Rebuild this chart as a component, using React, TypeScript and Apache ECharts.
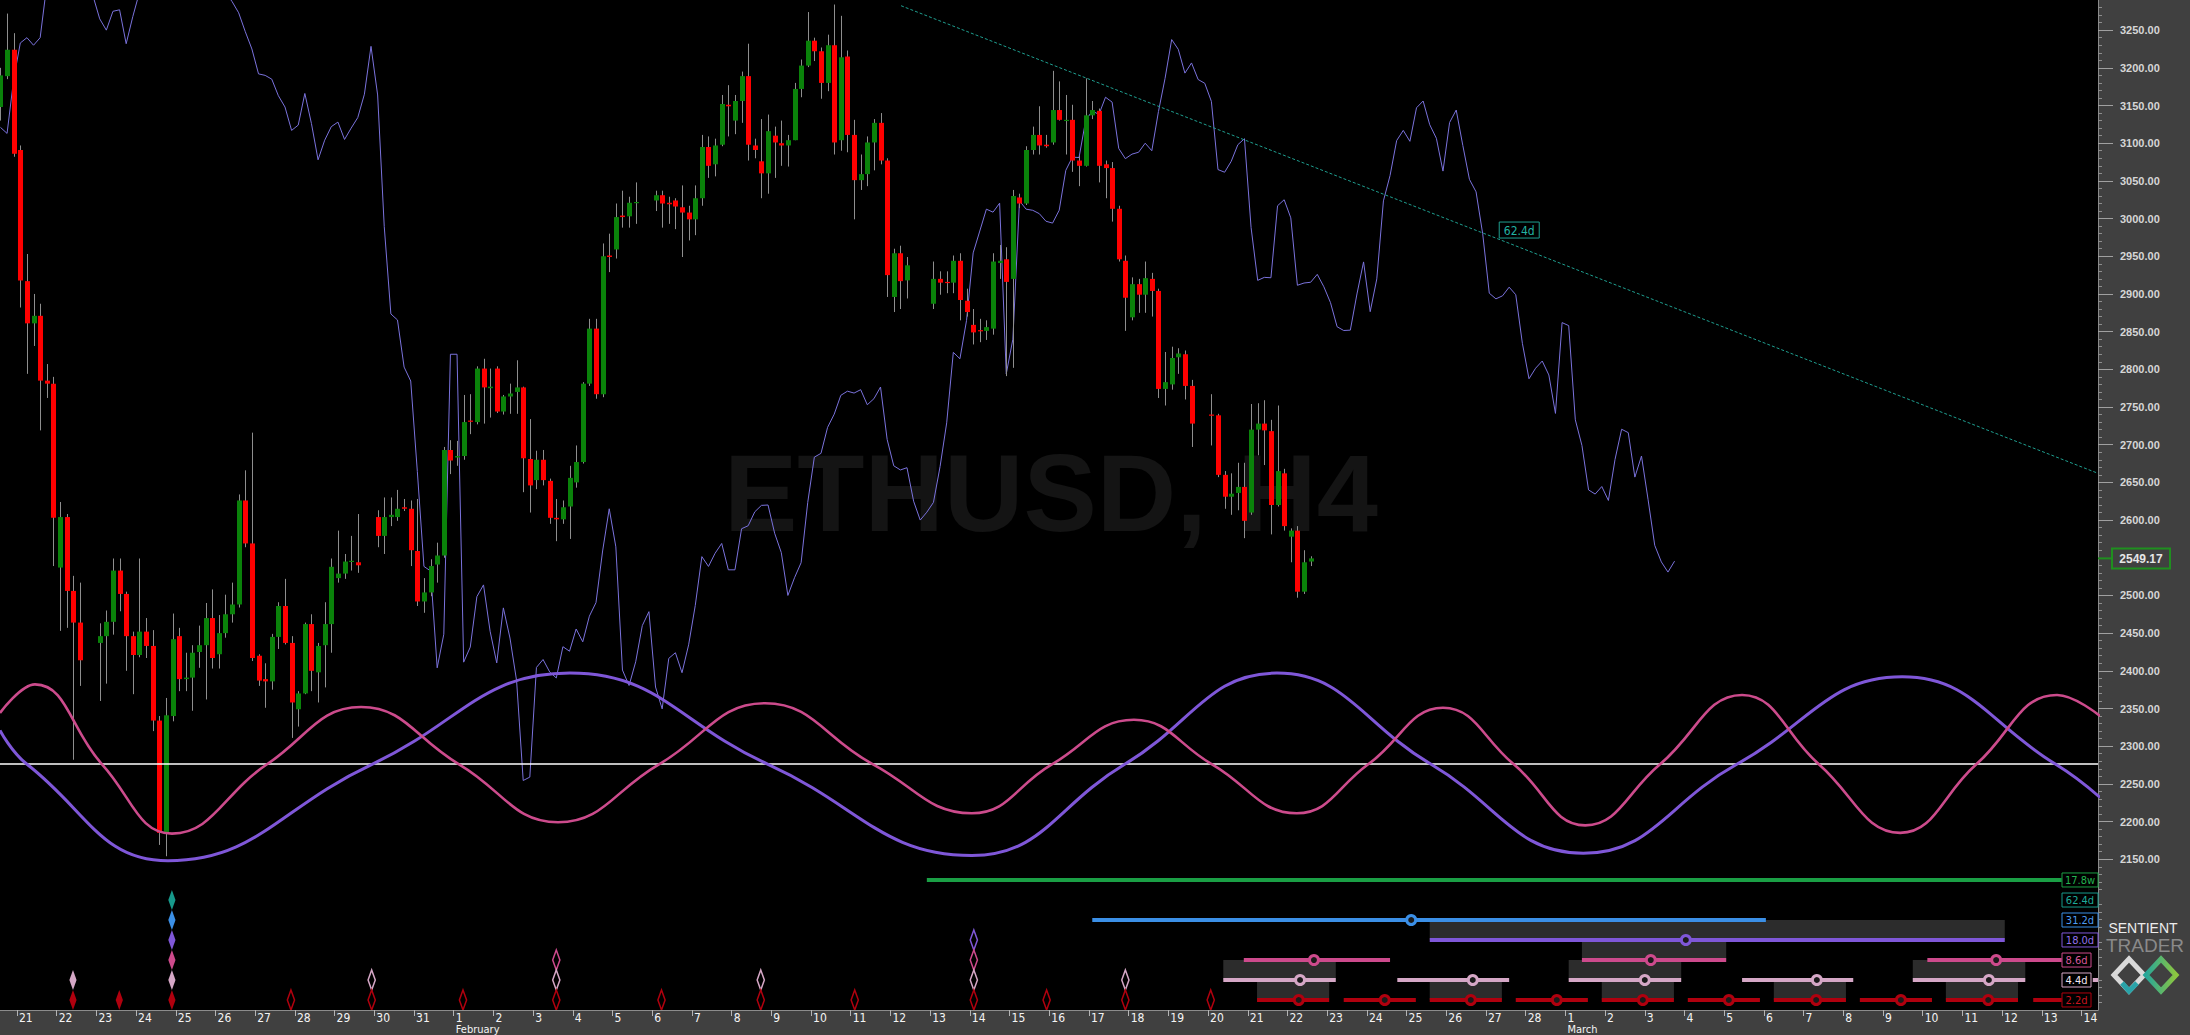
import React, { useEffect, useRef } from "react";
import * as echarts from "echarts";

// ---------- axes ----------
const X_MIN = -2.569; // candle slots, 0 = 21 Jan 00:00, 6 slots per day (H4)
const X_MAX = 314.49;
const Y_MIN = 1950;
const Y_MAX = 3290;
const FIRST_INDEX = -3;

const dayLabels = [
  "21", "22", "23", "24", "25", "26", "27", "28", "29", "30", "31",
  "1", "2", "3", "4", "5", "6", "7", "8", "9", "10", "11", "12", "13", "14", "15", "16", "17", "18", "19", "20", "21", "22", "23", "24", "25", "26", "27", "28",
  "1", "2", "3", "4", "5", "6", "7", "8", "9", "10", "11", "12", "13", "14",
];
const monthLabelDay = [11, 39];
const monthLabelText = ["February", "March"];
const priceTicks = [2150, 2200, 2250, 2300, 2350, 2400, 2450, 2500, 2550, 2600, 2650, 2700, 2750, 2800, 2850, 2900, 2950, 3000, 3050, 3100, 3150, 3200, 3250];

// ---------- ETHUSD H4 candles (index -3 .. 195) ----------
const openP = [
  3148, 3189, 3224, 3091, 2917, 2861, 2871, 2785, 2781, 2537,
  2604, 2506, 2464, null, null, 2437, 2446, 2465, 2533, 2502,
  2446, 2421, 2452, 2433, 2334, 2185, 2340, 2446, 2389, 2391,
  2425, 2434, 2470, 2422, 2450, 2475, 2488, 2626, 2569, 2420,
  2389, 2386, 2445, 2486, 2437, 2349, 2370, 2462, 2398, 2434,
  2462, 2523, 2529, 2545, 2544, null, null, 2604, 2579, 2604,
  2604, 2617, 2615, 2559, 2492, 2504, 2541, 2553, 2693, 2683,
  2685, 2732, 2730, 2801, 2775, 2801, 2744, 2764, 2770, 2776,
  2681, 2653, 2680, 2652, 2603, 2601, 2618, 2650, 2677, 2781,
  2854, 2767, 2951, 2959, 3004, 3003, 3021, null, null, 3024,
  3031, 3021, 3024, 3015, 3008, 2999, 3027, 3095, 3072, 3098,
  3151, 3130, 3156, 3189, 3097, 3076, 3060, 3110, 3100, 3097,
  3104, 3172, 3203, 3236, 3222, 3180, 3230, 3104, 3215, 3111,
  3051, 3059, 3101, 3127, 3077, 2896, 2954, 2918, null, null,
  null, 2887, 2920, 2916, 2915, 2944, 2891, 2859, 2852, 2851,
  2854, 2941, 2946, 2920, 3028, 3020, 3091, 3111, 3098, 3101,
  3144, 3130, 3131, 3077, 3070, 3137, 3143, 3072, 3067, 3013,
  2944, 2869, 2913, 2899, 2920, 2904, 2774, 2780, 2816, 2820,
  2778, null, null, 2740, 2739, 2660, 2631, 2636, 2644, 2610,
  2720, 2728, 2718, 2620, 2662, 2578, 2586, 2505, 2545,
];
const highP = [
  3200, 3272, 3246, 3097, 2953, 2900, 2887, 2807, 2790, 2624,
  2608, 2526, 2517, null, null, 2463, 2480, 2549, 2549, 2505,
  2452, 2549, 2470, 2454, 2340, 2364, 2476, 2457, 2424, 2434,
  2460, 2490, 2508, 2474, 2501, 2517, 2634, 2666, 2716, 2422,
  2410, 2449, 2491, 2522, 2446, 2373, 2464, 2475, 2437, 2491,
  2549, 2586, 2555, 2579, 2608, null, null, 2613, 2630, 2630,
  2640, 2628, 2626, 2628, 2523, 2548, 2570, 2697, 2706, 2705,
  2766, 2767, 2804, 2814, 2801, 2804, 2766, 2781, 2812, 2777,
  2734, 2692, 2693, 2655, 2628, 2626, 2672, 2699, 2783, 2867,
  2867, 2967, 2980, 3020, 3037, 3029, 3048, null, null, 3037,
  3037, 3029, 3027, 3044, 3017, 3044, 3111, 3109, 3106, 3164,
  3177, 3164, 3195, 3232, 3106, 3132, 3138, 3122, 3130, 3111,
  3180, 3211, 3274, 3240, 3227, 3244, 3284, 3269, 3223, 3131,
  3085, 3109, 3132, 3140, 3080, 2960, 2964, 2949, null, null,
  null, 2943, 2930, 2930, 2951, 2954, 2907, 2880, 2867, 2865,
  2954, 2965, 2962, 3038, 3033, 3096, 3122, 3149, 3111, 3196,
  3182, 3164, 3151, 3083, 3186, 3156, 3146, 3077, 3075, 3017,
  2951, 2922, 2920, 2943, 2928, 2907, 2823, 2830, 2828, 2825,
  2786, null, null, 2767, 2741, 2665, 2662, 2676, 2676, 2754,
  2755, 2759, 2733, 2752, 2668, 2589, 2592, 2560, 2552,
];
const lowP = [
  3130, 3185, 3082, 2882, 2794, 2831, 2719, 2762, 2539, 2453,
  2457, 2282, 2380, null, null, 2360, 2383, 2448, 2479, 2400,
  2369, 2418, 2417, 2320, 2169, 2154, 2333, 2373, 2373, 2347,
  2404, 2362, 2403, 2403, 2444, 2464, 2484, 2564, 2413, 2380,
  2351, 2375, 2429, 2435, 2311, 2326, 2369, 2373, 2358, 2378,
  2424, 2517, 2522, 2533, 2530, null, null, 2564, 2555, 2592,
  2599, 2612, 2539, 2486, 2477, 2499, 2517, 2550, 2661, 2672,
  2680, 2714, 2727, 2728, 2736, 2742, 2740, 2741, 2741, 2637,
  2610, 2641, 2646, 2595, 2572, 2595, 2575, 2643, 2675, 2778,
  2761, 2763, 2929, 2947, 2988, 2988, 2993, null, null, 3010,
  2988, 2993, 2986, 2949, 2971, 2978, 3017, 3054, 3056, 3096,
  3109, 3112, 3127, 3077, 3080, 3027, 3033, 3054, 3070, 3069,
  3104, 3161, 3201, 3209, 3159, 3169, 3085, 3090, 3088, 2999,
  3038, 3043, 3064, 3072, 2896, 2876, 2880, 2894, null, null,
  null, 2880, 2899, 2901, 2901, 2865, 2870, 2833, 2836, 2839,
  2846, 2920, 2791, 2802, 3014, 3018, 3085, 3085, 3094, 3098,
  3130, 3085, 3062, 3043, 3069, 3132, 3048, 3027, 2996, 2943,
  2851, 2865, 2875, 2875, 2870, 2762, 2752, 2773, 2794, 2760,
  2697, null, null, 2699, 2657, 2615, 2607, 2613, 2576, 2607,
  2686, 2673, 2581, 2618, 2586, 2544, 2497, 2502, 2539,
];
const closeP = [
  3190, 3224, 3086, 2918, 2861, 2871, 2785, 2781, 2603, 2604,
  2506, 2464, 2414, null, null, 2446, 2465, 2533, 2502, 2446,
  2421, 2452, 2433, 2334, 2185, 2341, 2442, 2389, 2391, 2424,
  2434, 2470, 2417, 2450, 2475, 2488, 2626, 2569, 2417, 2387,
  2386, 2445, 2486, 2437, 2358, 2370, 2462, 2400, 2433, 2462,
  2538, 2529, 2545, 2546, 2540, null, null, 2579, 2604, 2607,
  2615, 2615, 2560, 2492, 2504, 2539, 2553, 2693, 2679, 2685,
  2730, 2731, 2801, 2776, 2777, 2744, 2764, 2768, 2776, 2682,
  2646, 2680, 2653, 2603, 2601, 2617, 2656, 2677, 2781, 2854,
  2767, 2950, 2949, 3002, 3002, 3021, 3022, null, null, 3031,
  3020, 3019, 3016, 3008, 2999, 3027, 3095, 3070, 3097, 3152,
  3149, 3156, 3189, 3098, 3091, 3060, 3116, 3101, 3097, 3104,
  3172, 3203, 3236, 3222, 3180, 3230, 3101, 3214, 3111, 3051,
  3059, 3101, 3127, 3077, 2925, 2954, 2917, 2938, null, null,
  null, 2920, 2915, 2915, 2944, 2892, 2876, 2849, 2851, 2856,
  2943, 2944, 2916, 3030, 3020, 3091, 3111, 3097, 3096, 3144,
  3131, 3131, 3077, 3070, 3137, 3144, 3070, 3067, 3013, 2946,
  2895, 2913, 2899, 2921, 2904, 2774, 2783, 2815, 2821, 2778,
  2728, null, null, 2739, 2660, 2631, 2635, 2644, 2599, 2720,
  2728, 2719, 2620, 2665, 2592, 2586, 2505, 2544, 2549.17,
];
const lastPriceLabel = "2549.17";

// ---------- FLD (median price displaced forward) ----------
const FLD_SHIFT = 55;
const fldLead = [
  3121, 3113, 3185, 3233, 3240, 3230, 3240, 3310, 3340, 3370,
  3380, 3360, 3330, 3300, 3295, 3265, 3250, 3275, 3277, 3232,
  3268, 3300, 3330, 3350, 3380, 3400, 3410, 3420, 3400, 3390,
  3380, 3370, 3350, 3320, 3300, 3288, 3273, 3248, 3225, 3192,
  3190, 3185, 3163, 3148, 3117, 3124, 3166, 3126, 3078, 3104,
  3122, 3128, 3105, 3120, 3134,
];
const fldGapIdx = [10, 11, 52, 53, 94, 95, 135, 136, 137, 178, 179];
const fldGapVal = [2820, 2820, 2534, 2534, 2794, 2840, 3017, 3025, 3001, 2862, 2858];

// ---------- cycle waves ----------
const purpleWaveU = [-2.57, 1.51, 22.82, 53.65, 83.57, 113.5, 144.3, 167.4, 190.4, 213.7, 236.7, 259.9, 284.9, 308.1, 314.8];
const purpleWaveV = [2321, 2276, 2148, 2276, 2397, 2276, 2155, 2276, 2397, 2276, 2158, 2276, 2392, 2276, 2232];
const pinkWaveU = [-2.57, 2.72, 12.85, 23.42, 37.78, 51.99, 66.8, 81.76, 97.02, 113.04, 129.36, 144.3, 156.4, 168.8, 180.6, 193.4, 204.2, 215.5, 226.2, 237, 248.3, 260.7, 272.3, 284.6, 296.1, 308.3, 314.8];
const pinkWaveV = [2344, 2382, 2276, 2184, 2276, 2352, 2276, 2199, 2276, 2357, 2276, 2211, 2276, 2335, 2276, 2211, 2276, 2351, 2276, 2195, 2276, 2368, 2276, 2185, 2276, 2368, 2340];
const midLevel = 2276.4;

// ---------- trend line ----------
const trendU = [133.6, 314.5];
const trendV = [3282.4, 2662];
const trendLabelU = 224.0;
const trendLabelV = 2984.8;
const trendLabelText = "62.4d";

// ---------- cycle panel ----------
const rowNames = ["17.8w", "62.4d", "31.2d", "18.0d", "8.6d", "4.4d", "2.2d"];
const rowColors = ["#1a9f45", "#17998b", "#3b8fe6", "#7f57d8", "#cd4a8c", "#d5a7c6", "#b0000e"];
const rowTextColors = ["#23b350", "#1eaa9a", "#4d9cf2", "#9270ea", "#d8589a", "#f2e6f0", "#c8141f"];
const rowLevels = [2122.5, 2095.9, 2069.4, 2042.9, 2016.3, 1989.8, 1963.3];
const rowLabelWidths = [36, 36, 36, 36, 29, 29, 29];
const rowLabelU = 309.05;

const segRow = [0, 2, 3, 4, 4, 4, 5, 5, 5, 5, 5, 5, 6, 6, 6, 6, 6, 6, 6, 6, 6, 6];
const segStart = [137.5, 162.5, 213.5, 185.4, 236.5, 288.7, 182.3, 208.6, 234.5, 260.7, 286.5, 313.7, 187.4, 200.5, 213.5, 226.5, 239.5, 252.5, 265.5, 278.5, 291.5, 304.7];
const segMark = [-1, 210.7, 252.2, 196, 246.9, 299.1, 193.9, 220, 246, 272, 298, -1, 193.7, 206.7, 219.7, 232.7, 245.7, 258.7, 271.9, 284.7, 297.9, -1];
const segEnd = [309, 264.3, 300.4, 207.5, 258.3, 309, 199.3, 225.5, 251.5, 277.5, 303.5, 315, 198.3, 211.4, 224.4, 237.4, 250.4, 263.4, 276.4, 289.4, 302.4, 309];

const boxStart = [213.5, 236.5, 182.3, 234.5, 286.5, 187.4, 213.5, 239.5, 265.5, 291.5];
const boxEnd = [300.4, 258.3, 199.3, 251.5, 303.5, 198.3, 224.4, 250.4, 276.4, 302.4];
const boxRow = [3, 4, 5, 5, 5, 6, 6, 6, 6, 6];

const diamondU = [8.46, 15.46, 23.41, 41.4, 53.6, 67.4, 81.5, 97.4, 112.4, 126.6, 144.6, 155.6, 167.5, 180.4];
const diamondTopRow = [5, 6, 1, 6, 5, 6, 4, 6, 5, 6, 3, 6, 5, 6];
const diamondFilled = [1, 1, 1, 0, 0, 0, 0, 0, 0, 0, 0, 0, 0, 0];

const FONT_NARROW = '"Liberation Sans Narrow", "DejaVu Sans Condensed", "Arial Narrow", sans-serif';

export default function App() {
  const ref = useRef<HTMLDivElement>(null);

  useEffect(() => {
    if (!ref.current) return;
    const chart = echarts.init(ref.current, null, { renderer: "svg" });

    // candles
    const candleData: number[][] = [];
    for (let k = 0; k < openP.length; k++) {
      if (openP[k] == null) continue;
      const i = FIRST_INDEX + k;
      candleData.push([i + 0.5, openP[k] as number, closeP[k] as number, lowP[k] as number, highP[k] as number]);
    }
    // FLD
    const fldData: number[][] = [];
    fldLead.forEach((v, k) => fldData.push([FIRST_INDEX + k + 0.5, v]));
    for (let k = 0; k < openP.length; k++) {
      const i = FIRST_INDEX + k;
      let med: number;
      if (highP[k] == null) med = fldGapVal[fldGapIdx.indexOf(i)];
      else med = ((highP[k] as number) + (lowP[k] as number)) / 2;
      fldData.push([i + FLD_SHIFT + 0.5, med]);
    }

    const dayTickValues = dayLabels.map((_, d) => d * 6);
    const purpleWave = purpleWaveU.map((u, k) => [u, purpleWaveV[k]]);
    const pinkWave = pinkWaveU.map((u, k) => [u, pinkWaveV[k]]);

    const segData = segRow.map((r, k) => [segStart[k], rowLevels[r], r, segMark[k], segEnd[k]]);
    const boxData = boxRow.map((r, k) => [boxStart[k], rowLevels[r], r, boxEnd[k]]);
    const diamondData: number[][] = [];
    diamondU.forEach((u, k) => {
      for (let r = diamondTopRow[k]; r <= 6; r++) diamondData.push([u, rowLevels[r], r, diamondFilled[k]]);
    });
    const labelData = rowNames.map((_, r) => [rowLabelU, rowLevels[r], r]);

    const option: any = {
      animation: false,
      backgroundColor: "#404040",
      grid: { left: 0, right: 92, top: 0, bottom: 25, show: true, backgroundColor: "#000000", borderWidth: 0, z: 0 },
      xAxis: {
        type: "value",
        min: X_MIN,
        max: X_MAX,
        axisLine: { show: true, onZero: false, lineStyle: { color: "#8c8c8c", width: 1 } },
        axisTick: { show: true, customValues: dayTickValues, length: 6, lineStyle: { color: "#b4b4b4" } },
        axisLabel: {
          show: true,
          customValues: dayTickValues,
          formatter: (val: number) => {
            const d = Math.round(val / 6);
            const lbl = dayLabels[d] ?? "";
            const mi = monthLabelDay.indexOf(d);
            return mi >= 0 ? `${lbl}\n{m|${monthLabelText[mi]}}` : lbl;
          },
          color: "#f4f4f4",
          fontSize: 12,
          fontFamily: FONT_NARROW,
          align: "left",
          margin: 2,
          padding: [0, 0, 0, 2],
          lineHeight: 12,
          rich: { m: { fontSize: 11, color: "#f4f4f4", fontFamily: FONT_NARROW, lineHeight: 10 } },
        },
        splitLine: { show: false },
      },
      yAxis: {
        type: "value",
        position: "right",
        min: Y_MIN,
        max: Y_MAX,
        interval: 50,
        axisLine: { show: true, onZero: false, lineStyle: { color: "#8a8a8a" } },
        axisTick: { show: true, customValues: priceTicks, length: 15, lineStyle: { color: "#a0a0a0" } },
        minorTick: { show: true, splitNumber: 5, length: 4, lineStyle: { color: "#8c8c8c" } },
        axisLabel: {
          show: true,
          customValues: priceTicks,
          formatter: (v: number) => v.toFixed(2),
          color: "#d6d6d6",
          fontSize: 11,
          fontWeight: "bold",
          fontFamily: "Arial, Liberation Sans, sans-serif",
          margin: 22,
        },
        splitLine: { show: false },
        minorSplitLine: { show: false },
      },
      series: [
        {
          type: "line",
          name: "FLD",
          data: fldData,
          showSymbol: false,
          symbol: "none",
          lineStyle: { color: "#7a72dc", width: 1 },
          silent: true,
          z: 2,
        },
        {
          type: "custom",
          name: "ETHUSD",
          data: candleData,
          encode: { x: 0, y: [1, 2, 3, 4] },
          clip: true,
          silent: true,
          z: 3,
          renderItem: (params: any, api: any) => {
            const u = api.value(0);
            const o = api.value(1);
            const c = api.value(2);
            const l = api.value(3);
            const h = api.value(4);
            const pO = api.coord([u, o]);
            const pC = api.coord([u, c]);
            const pL = api.coord([u, l]);
            const pH = api.coord([u, h]);
            const w = (api.coord([u + 0.5, o])[0] - api.coord([u - 0.5, o])[0]) * 0.76;
            const up = c >= o;
            const top = Math.min(pO[1], pC[1]);
            const bh = Math.max(1.2, Math.abs(pO[1] - pC[1]));
            const wx = Math.round(pO[0]) + 0.5;
            return {
              type: "group",
              children: [
                { type: "line", shape: { x1: wx, y1: pH[1], x2: wx, y2: pL[1] }, style: { stroke: "#8e8e8e", lineWidth: 1 } },
                { type: "rect", shape: { x: wx - w / 2, y: top, width: w, height: bh }, style: { fill: up ? "#0a820a" : "#ff0000" } },
              ],
            };
          },
        },
        {
          type: "line",
          name: "trend",
          data: trendU.map((u, k) => [u, trendV[k]]),
          showSymbol: false,
          symbol: "none",
          lineStyle: { color: "#1f9e8f", width: 1, type: [3, 2] },
          silent: true,
          z: 4,
        },
        {
          type: "line",
          name: "mid",
          data: [[X_MIN, midLevel], [X_MAX, midLevel]],
          showSymbol: false,
          symbol: "none",
          lineStyle: { color: "#ffffff", width: 1.5 },
          silent: true,
          z: 4,
        },
        {
          type: "line",
          name: "18.0d wave",
          data: purpleWave,
          smooth: 0.45,
          showSymbol: false,
          symbol: "none",
          lineStyle: { color: "#7f57d8", width: 3 },
          silent: true,
          z: 5,
        },
        {
          type: "line",
          name: "8.6d wave",
          data: pinkWave,
          smooth: 0.45,
          showSymbol: false,
          symbol: "none",
          lineStyle: { color: "#cc4b8c", width: 2.6 },
          silent: true,
          z: 5,
        },
        {
          type: "custom",
          name: "boxes",
          data: boxData,
          encode: { x: [0, 3], y: 1 },
          clip: true,
          silent: true,
          z: 6,
          renderItem: (params: any, api: any) => {
            const r = api.value(2);
            const a = api.coord([api.value(0), rowLevels[r - 1]]);
            const b = api.coord([api.value(3), rowLevels[r]]);
            return { type: "rect", shape: { x: a[0], y: a[1], width: b[0] - a[0], height: b[1] - a[1] }, style: { fill: "#2c2c2c" } };
          },
        },
        {
          type: "custom",
          name: "cycle lines",
          data: segData,
          encode: { x: [0, 4], y: 1 },
          clip: true,
          silent: true,
          z: 7,
          renderItem: (params: any, api: any) => {
            const r = api.value(2);
            const y = rowLevels[r];
            const a = api.coord([api.value(0), y]);
            const b = api.coord([api.value(4), y]);
            const children: any[] = [
              { type: "line", shape: { x1: a[0], y1: a[1], x2: b[0], y2: b[1] }, style: { stroke: rowColors[r], lineWidth: 4 } },
            ];
            const m = api.value(3);
            if (m >= 0) {
              const c = api.coord([m, y]);
              children.push({ type: "circle", shape: { cx: c[0], cy: c[1], r: 4.5 }, style: { fill: "#1a1a1a", stroke: rowColors[r], lineWidth: 3 } });
            }
            return { type: "group", children };
          },
        },
        {
          type: "custom",
          name: "diamonds",
          data: diamondData,
          encode: { x: 0, y: 1 },
          clip: true,
          silent: true,
          z: 7,
          renderItem: (params: any, api: any) => {
            const r = api.value(2);
            const filled = api.value(3) === 1;
            const p = api.coord([api.value(0), api.value(1)]);
            const pts = [[p[0], p[1] - 10], [p[0] + 3.6, p[1]], [p[0], p[1] + 10], [p[0] - 3.6, p[1]]];
            return {
              type: "polygon",
              shape: { points: pts },
              style: filled ? { fill: rowColors[r] } : { fill: "none", stroke: rowColors[r], lineWidth: 1.5 },
            };
          },
        },
        {
          type: "custom",
          name: "cycle labels",
          data: labelData,
          encode: { x: 0, y: 1 },
          clip: false,
          silent: true,
          z: 8,
          renderItem: (params: any, api: any) => {
            const r = api.value(2);
            const p = api.coord([api.value(0), api.value(1)]);
            const w = rowLabelWidths[r];
            return {
              type: "group",
              children: [
                { type: "rect", shape: { x: p[0], y: p[1] - 7, width: w, height: 14 }, style: { fill: "#000000", stroke: rowColors[r], lineWidth: 1 } },
                {
                  type: "text",
                  style: { text: rowNames[r], x: p[0] + w / 2, y: p[1] + 0.5, align: "center", verticalAlign: "middle", fill: rowTextColors[r], font: `11px ${FONT_NARROW}` },
                },
              ],
            };
          },
        },
        {
          type: "custom",
          name: "trend label",
          data: [[trendLabelU, trendLabelV]],
          encode: { x: 0, y: 1 },
          clip: true,
          silent: true,
          z: 8,
          renderItem: (params: any, api: any) => {
            const p = api.coord([api.value(0), api.value(1)]);
            return {
              type: "group",
              children: [
                { type: "rect", shape: { x: p[0], y: p[1] - 8, width: 40, height: 16 }, style: { fill: "#000000", stroke: "#1f9e8f", lineWidth: 1 } },
                {
                  type: "text",
                  style: { text: trendLabelText, x: p[0] + 20, y: p[1] + 0.5, align: "center", verticalAlign: "middle", fill: "#22b3a2", font: `12px ${FONT_NARROW}` },
                },
              ],
            };
          },
        },
      ],
    };

    chart.setOption(option);

    const lastClose = closeP[closeP.length - 1] as number;
    const py = chart.convertToPixel({ yAxisIndex: 0 }, lastClose) as number;
    const plotRight = 2098;

    chart.setOption({
      graphic: [
        {
          type: "text",
          z: 1,
          silent: true,
          style: { text: "ETHUSD, H4", x: 1051, y: 492, align: "center", verticalAlign: "middle", fill: "#141414", font: "bold 110px Arial, 'Liberation Sans', sans-serif" },
        },
        { type: "line", z: 20, silent: true, shape: { x1: plotRight, y1: py, x2: plotRight + 14, y2: py }, style: { stroke: "#1f8f1f", lineWidth: 2 } },
        { type: "rect", z: 20, silent: true, shape: { x: plotRight + 14, y: py - 10, width: 58, height: 20 }, style: { fill: "#404040", stroke: "#1f8f1f", lineWidth: 2 } },
        {
          type: "text",
          z: 21,
          silent: true,
          style: { text: lastPriceLabel, x: plotRight + 43, y: py + 0.5, align: "center", verticalAlign: "middle", fill: "#e6e6e6", font: "bold 12px Arial, 'Liberation Sans', sans-serif" },
        },
        {
          type: "text",
          z: 20,
          silent: true,
          style: { text: "SENTIENT", x: 2143, y: 928, align: "center", verticalAlign: "middle", fill: "#ececec", font: "14px Arial, 'Liberation Sans', sans-serif" },
        },
        {
          type: "text",
          z: 20,
          silent: true,
          style: { text: "TRADER", x: 2145, y: 945, align: "center", verticalAlign: "middle", fill: "#8a8a8a", font: "19px Arial, 'Liberation Sans', sans-serif" },
        },
        {
          type: "polygon",
          z: 20,
          silent: true,
          shape: { points: [[2114, 975], [2129, 959], [2144, 975], [2129, 991]] },
          style: { fill: "none", stroke: "#d9d9d9", lineWidth: 5 },
        },
        {
          type: "polygon",
          z: 21,
          silent: true,
          shape: { points: [[2146, 975], [2161, 959], [2176, 975], [2161, 991]] },
          style: {
            fill: "none",
            lineWidth: 5,
            stroke: new echarts.graphic.LinearGradient(0, 0, 1, 0, [
              { offset: 0, color: "#26a69a" },
              { offset: 1, color: "#8dc63f" },
            ]),
          },
        },
        {
          type: "polyline",
          z: 22,
          silent: true,
          shape: { points: [[2122, 983], [2129, 991], [2137, 983]] },
          style: { stroke: "#2aa3a8", lineWidth: 5, fill: "none" },
        },
      ],
    });

    return () => chart.dispose();
  }, []);

  return <div ref={ref} style={{ position: "fixed", left: 0, top: 0, width: 2190, height: 1035 }} />;
}
